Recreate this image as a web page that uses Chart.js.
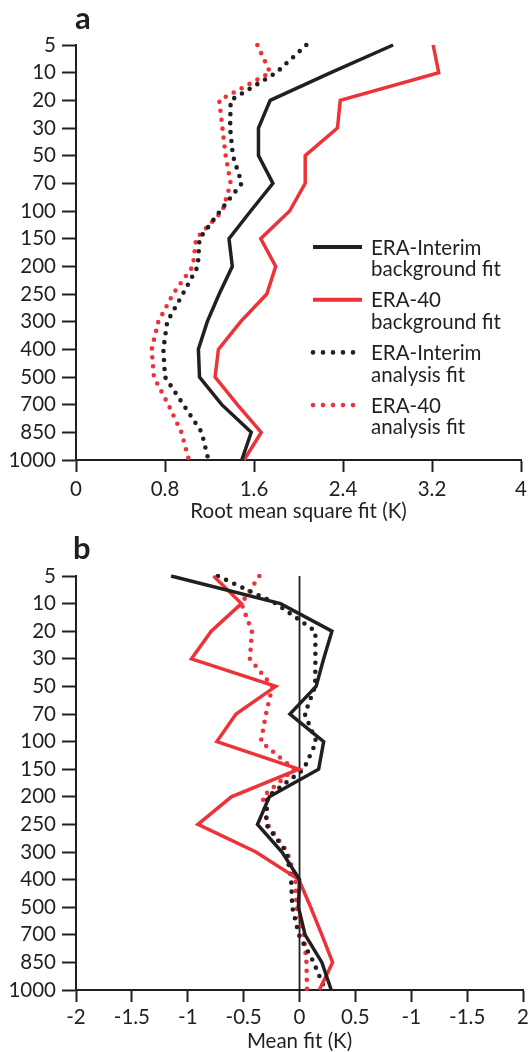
<!DOCTYPE html>
<html>
<head>
<meta charset="utf-8">
<script src="https://cdn.jsdelivr.net/npm/chart.js@4.4.1/dist/chart.umd.min.js"></script>
<style>
  html, body { margin: 0; padding: 0; background: #fff; }
  canvas { display: block; }
</style>
</head>
<body>
<canvas id="rms-chart" width="532" height="530"></canvas>
<canvas id="mean-chart" width="532" height="522"></canvas>
<script>
// pressure levels (hPa), top of the atmosphere first
const levels = ['5', '10', '20', '30', '50', '70', '100', '150', '200', '250', '300', '400', '500', '700', '850', '1000'];

// panel a: root mean square fit (K)
const rmsInterimBg = [2.85, 2.29, 1.745, 1.64, 1.64, 1.77, 1.57, 1.375, 1.405, 1.287, 1.18, 1.10, 1.11, 1.31, 1.575, 1.49];
const rmsEra40Bg   = [3.21, 3.26, 2.375, 2.35, 2.06, 2.06, 1.92, 1.66, 1.795, 1.715, 1.48, 1.28, 1.25, 1.45, 1.665, 1.51];
const rmsInterimAn = [2.07, 1.80, 1.39, 1.385, 1.41, 1.49, 1.295, 1.11, 1.095, 0.96, 0.82, 0.785, 0.80, 0.965, 1.13, 1.19];
const rmsEra40An   = [1.63, 1.745, 1.287, 1.316, 1.345, 1.39, 1.316, 1.08, 1.05, 0.872, 0.74, 0.68, 0.70, 0.83, 0.947, 1.015];

// panel b: mean fit (K)
const meanInterimBg = [-1.15, -0.17, 0.29, 0.216, 0.148, -0.086, 0.216, 0.171, -0.27, -0.376, -0.157, 0.0, -0.01, 0.05, 0.2, 0.284];
const meanEra40Bg   = [-0.77, -0.52, -0.79, -0.967, -0.213, -0.568, -0.74, -0.006, -0.61, -0.909, -0.39, -0.006, 0.1, 0.2, 0.296, 0.177];
const meanInterimAn = [-0.73, -0.21, 0.142, 0.142, 0.14, 0.047, 0.15, 0.038, -0.287, -0.30, -0.116, -0.075, -0.065, -0.006, 0.127, 0.23];
const meanEra40An   = [-0.36, -0.52, -0.426, -0.444, -0.243, -0.30, -0.346, -0.05, -0.33, -0.287, -0.11, -0.036, -0.027, 0.038, 0.062, 0.067];

const rmsTicks = [0, 0.8, 1.6, 2.4, 3.2, 4];
const rmsTickLabels = ['0', '0.8', '1.6', '2.4', '3.2', '4'];
const meanTicks = [-2, -1.5, -1, -0.5, 0, 0.5, 1, 1.5, 2];
const meanTickLabels = ['-2', '-1.5', '-1', '-0.5', '0', '0.5', '-1', '-1.5', '2'];

const seriesNames = ['ERA-Interim\nbackground fit', 'ERA-40\nbackground fit', 'ERA-Interim\nanalysis fit', 'ERA-40\nanalysis fit'];

const ink = '#231f20';
const red = '#ee3338';
const fontSize = 20.5;

Chart.defaults.font.family = 'Lato';
Chart.defaults.font.size = fontSize;
Chart.defaults.color = ink;

function solid(label, data, color) {
  return {
    label: label, data: data, borderColor: color, borderWidth: 3.5,
    pointRadius: 0, tension: 0, fill: false, borderJoinStyle: 'miter'
  };
}

function dotted(label, data, color) {
  return {
    label: label, data: data, borderColor: color, borderWidth: 4.6,
    borderDash: [0, 9], borderCapStyle: 'round', borderJoinStyle: 'round',
    pointRadius: 0, tension: 0, fill: false
  };
}

// legend with two-line labels, drawn inside the plot
const legendBox = {
  id: 'legendBox',
  afterDatasetsDraw(chart, args, opts) {
    if (!opts.display) return;
    const ctx = chart.ctx;
    chart.data.datasets.forEach((ds, i) => {
      const y = opts.top + i * opts.step;
      ctx.save();
      ctx.strokeStyle = ds.borderColor;
      if (ds.borderDash) {
        ctx.lineWidth = 4.6;
        ctx.lineCap = 'round';
        ctx.setLineDash([0, 10]);
      } else {
        ctx.lineWidth = 4;
        ctx.lineCap = 'butt';
      }
      ctx.beginPath();
      ctx.moveTo(opts.x, y);
      ctx.lineTo(opts.x + opts.len, y);
      ctx.stroke();
      ctx.setLineDash([]);
      ctx.fillStyle = ink;
      ctx.font = fontSize + 'px Lato';
      ctx.textBaseline = 'middle';
      ds.label.split('\n').forEach((line, j) => {
        ctx.fillText(line, opts.x + opts.len + opts.gap, y + 1 + j * opts.lineGap);
      });
      ctx.restore();
    });
  }
};

const panelLetter = {
  id: 'panelLetter',
  afterDraw(chart, args, opts) {
    const ctx = chart.ctx;
    ctx.save();
    ctx.fillStyle = ink;
    ctx.font = 'bold 31px Lato';
    ctx.textBaseline = 'alphabetic';
    ctx.fillText(opts.text, opts.x, opts.y);
    ctx.restore();
  }
};

function scales(xMin, xMax, ticks, tickLabels, title, axisHeight, labelPad, titlePad) {
  return {
    x: {
      type: 'linear', min: xMin, max: xMax,
      afterBuildTicks: s => { s.ticks = ticks.map(v => ({ value: v })); },
      afterFit: s => { s.height = axisHeight; },
      grid: { drawOnChartArea: false, tickLength: 12, tickWidth: 2, tickColor: ink },
      border: { color: ink, width: 2 },
      ticks: { padding: labelPad, color: ink, callback: (v, i) => tickLabels[i] },
      title: { display: true, text: title, color: ink, font: { size: fontSize, lineHeight: 1 }, padding: { top: 0, bottom: titlePad } }
    },
    y: {
      type: 'category', offset: false,
      afterFit: s => { s.width = 76; },
      grid: { drawOnChartArea: false, tickLength: 14, tickWidth: 2, tickColor: ink },
      border: { color: ink, width: 2 },
      ticks: { padding: 6, color: ink, autoSkip: false }
    }
  };
}

new Chart(document.getElementById('rms-chart'), {
  type: 'line',
  data: {
    labels: levels,
    datasets: [
      solid(seriesNames[0], rmsInterimBg, ink),
      solid(seriesNames[1], rmsEra40Bg, red),
      dotted(seriesNames[2], rmsInterimAn, ink),
      dotted(seriesNames[3], rmsEra40An, red)
    ]
  },
  options: {
    indexAxis: 'y',
    responsive: false,
    animation: false,
    layout: { padding: { top: 45, right: 6, left: 0, bottom: 0 } },
    scales: scales(0, 4, rmsTicks, rmsTickLabels, 'Root mean square fit (K)', 70, 5, 8),
    plugins: {
      legend: { display: false },
      tooltip: { enabled: false },
      legendBox: { display: true, x: 313, len: 49, gap: 9, top: 247, step: 52.7, lineGap: 21.7 },
      panelLetter: { text: 'a', x: 75, y: 29 }
    }
  },
  plugins: [legendBox, panelLetter]
});

new Chart(document.getElementById('mean-chart'), {
  type: 'line',
  data: {
    labels: levels,
    datasets: [
      solid(seriesNames[0], meanInterimBg, ink),
      solid(seriesNames[1], meanEra40Bg, red),
      dotted(seriesNames[2], meanInterimAn, ink),
      dotted(seriesNames[3], meanEra40An, red),
      // zero reference line
      { label: 'zero', data: [{ x: 0, y: '5' }, { x: 0, y: '1000' }], borderColor: ink, borderWidth: 1.8, pointRadius: 0, fill: false }
    ]
  },
  options: {
    indexAxis: 'y',
    responsive: false,
    animation: false,
    layout: { padding: { top: 46, right: 6, left: 0, bottom: 0 } },
    scales: scales(-2, 2, meanTicks, meanTickLabels, 'Mean fit (K)', 62, 3, 0),
    plugins: {
      legend: { display: false },
      tooltip: { enabled: false },
      legendBox: { display: false },
      panelLetter: { text: 'b', x: 73, y: 29 }
    }
  },
  plugins: [legendBox, panelLetter]
});
</script>
</body>
</html>
